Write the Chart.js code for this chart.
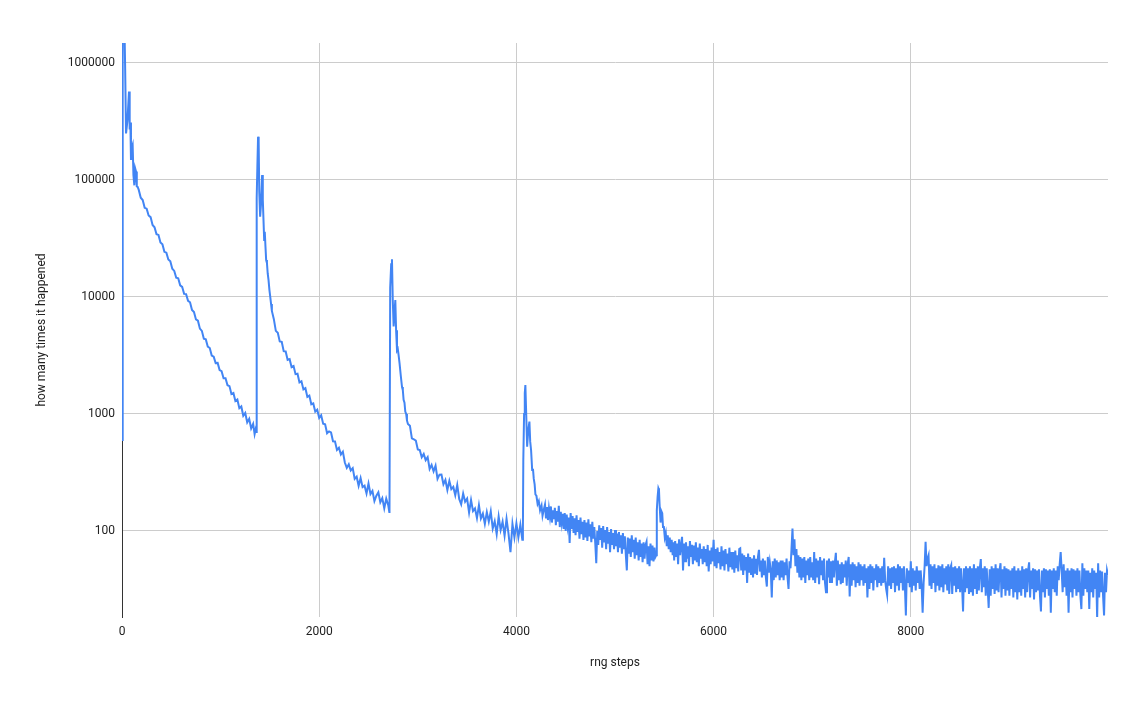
<!DOCTYPE html>
<html>
<head>
<meta charset="utf-8">
<title>rng steps</title>
<script src="https://cdn.jsdelivr.net/npm/chart.js@4.4.1/dist/chart.umd.min.js"></script>
<style>
    html, body { margin: 0; padding: 0; background: #fff; }
    #wrap { width: 1143px; height: 706px; position: relative; }
</style>
</head>
<body>
<div id="wrap"><canvas id="rngChart"></canvas></div>
<script>
// =========================
// DATA
// =========================

// first drop, 0 .. 1355
const steps1 = [
    0, 4, 10, 18, 26, 32, 41, 55, 71, 78,
    85, 91, 100, 108, 116, 125, 133, 142, 150, 159,
    170, 190, 210, 230, 250, 270, 290, 310, 330, 350,
    370, 390, 410, 430, 450, 470, 490, 510, 530, 550,
    570, 590, 610, 630, 650, 670, 690, 710, 730, 750,
    770, 790, 810, 830, 850, 870, 890, 910, 930, 950,
    970, 990, 1010, 1030, 1050, 1070, 1090, 1110, 1130, 1150,
    1170, 1190, 1210, 1230, 1250, 1270, 1290, 1310, 1330, 1345,
    1355
];
const counts1 = [
    600, 1700000, 1900000, 1500000, 1800000, 900000, 250000, 320000, 570000, 270000,
    310000, 148000, 190000, 200000, 110000, 90000, 126000, 118000, 88000, 87000,
    82200, 70500, 67300, 57800, 56800, 49700, 48100, 41200, 39400, 34400,
    33900, 29200, 28200, 24300, 23900, 20900, 20200, 17400, 16700, 14600,
    14450, 12560, 12200, 10620, 10570, 9270, 9010, 7730, 7430, 6430,
    6270, 5360, 5130, 4400, 4340, 3760, 3660, 3160, 3090, 2720,
    2730, 2370, 2320, 2020, 2020, 1760, 1730, 1480, 1510, 1290,
    1330, 1120, 1160, 965, 1020, 846, 908, 751, 822, 673,
    736
];

// second wave, 1362 .. 2711
const steps2 = [
    1362, 1366, 1373, 1380, 1386, 1392, 1401, 1410, 1421, 1428,
    1435, 1442, 1448, 1455, 1462, 1470, 1478, 1486, 1495, 1503,
    1512,
    1520, 1540, 1560, 1580, 1600, 1620, 1640, 1660, 1680, 1700,
    1720, 1740, 1760, 1780, 1800, 1820, 1840, 1860, 1880, 1900,
    1920, 1940, 1960, 1980, 2000, 2020, 2040, 2060, 2080, 2100,
    2120, 2140, 2160, 2180, 2200, 2220, 2240, 2260, 2280, 2300,
    2320, 2340, 2360, 2380, 2400, 2420, 2440, 2460, 2480, 2500,
    2520, 2540, 2560, 2580, 2600, 2620, 2640, 2660, 2680, 2700,
    2711
];
const counts2 = [
    700, 70000, 130000, 234000, 215000, 80000, 48500, 62000, 110000, 68000,
    45600, 30700, 36000, 27000, 20700, 19500, 15800, 14000, 11500, 10100,
    8700,
    7600, 6460, 5130, 4950, 4170, 4130, 3440, 3420, 2900, 2940,
    2510, 2570, 2190, 2210, 1860, 1905, 1620, 1660, 1400, 1435,
    1210, 1230, 1047, 1086, 925, 973, 826, 817, 684, 710,
    695, 585, 583, 492, 514, 451, 476, 385, 346, 371,
    329, 344, 279, 291, 243, 283, 237, 244, 209, 254,
    207, 220, 180, 200, 214, 176, 191, 156, 189, 166,
    145
];

// third wave, 2713 .. 4066
const steps3 = [
    2713, 2720, 2730, 2738, 2746, 2755, 2763, 2772, 2780, 2789,
    2797, 2805, 2815, 2828, 2840, 2848, 2856, 2865, 2873, 2882,
    2890,
    2900, 2920, 2940, 2960, 2980, 3000, 3020, 3040, 3060, 3080,
    3100, 3120, 3140, 3160, 3180, 3200, 3220, 3240, 3260, 3280,
    3300, 3320, 3340, 3360, 3380, 3400, 3420, 3440, 3460, 3480,
    3500, 3520, 3540, 3560, 3580, 3600, 3620, 3640, 3660, 3680,
    3700, 3720, 3740, 3760, 3780, 3800, 3820, 3840, 3860, 3880,
    3900, 3920, 3940, 3960, 3980, 4000, 4020, 4040, 4060,
    4066
];
const counts3 = [
    148, 12000, 19000, 21000, 9500, 5600, 7200, 9400, 5200, 3500,
    3600, 3200, 2700, 2100, 1700, 1600, 1320, 1250, 1050, 1000,
    880,
    822, 794, 619, 608, 592, 498, 492, 427, 455, 403,
    427, 339, 367, 324, 362, 279, 303, 304, 251, 273,
    224, 268, 228, 238, 202, 247, 188, 169, 209, 178,
    189, 144, 184, 148, 156, 129, 166, 128, 141, 115,
    145, 120, 147, 105, 121, 94, 133, 102, 120, 91,
    127, 95, 66, 115, 88, 116, 88, 113, 84,
    100
];

// fourth wave, 4070 .. 5410
const steps4 = [
    4070, 4078, 4085, 4091, 4098, 4109, 4120, 4132, 4140, 4149,
    4160, 4168, 4176, 4185, 4193, 4203, 4215, 4227, 4240, 4255,
    4265, 4277,
    4290, 4300, 4310, 4320, 4330, 4340, 4350, 4360, 4370, 4380,
    4390, 4400, 4410, 4420, 4430, 4440, 4450, 4460, 4470, 4480,
    4490, 4500, 4510, 4520, 4530, 4540, 4550, 4560, 4570, 4580,
    4590, 4600, 4610, 4620, 4630, 4640, 4650, 4660, 4670, 4680,
    4690, 4700, 4710, 4720, 4730, 4740, 4750, 4760, 4770, 4780,
    4790, 4800, 4810, 4820, 4830, 4840, 4850, 4860, 4870, 4880,
    4890, 4900, 4910, 4920, 4930, 4940, 4950, 4960, 4970, 4980,
    4990, 5000, 5010, 5020, 5030, 5040, 5050, 5060, 5070, 5080,
    5090, 5100, 5110, 5120, 5130, 5140, 5150, 5160, 5170, 5180,
    5190, 5200, 5210, 5220, 5230, 5240, 5250, 5260, 5270, 5280,
    5290, 5300, 5310, 5320, 5330, 5340, 5350, 5360, 5370, 5380,
    5390, 5400, 5410
];
const counts4 = [
    400, 1000, 1500, 1770, 1100, 525, 720, 860, 580, 490,
    332, 340, 280, 250, 205, 200, 170, 180, 150, 165,
    135, 151,
    168, 128, 160, 124, 155, 132, 162, 118, 150, 126,
    158, 112, 148, 120, 164, 108, 146, 118, 140, 104,
    142, 100, 138, 110, 130, 79, 142, 104, 134, 96,
    128, 92, 136, 98, 124, 86, 130, 94, 120, 84,
    124, 88, 118, 82, 126, 90, 114, 80, 120, 86,
    108, 78, 53, 100, 76, 112, 84, 106, 72, 110,
    80, 102, 70, 108, 78, 98, 66, 104, 76, 96,
    70, 102, 74, 95, 66, 98, 72, 92, 64, 96,
    70, 90, 62, 46, 88, 64, 86, 60, 92, 66,
    84, 58, 88, 62, 80, 56, 84, 60, 78, 54,
    80, 58, 76, 81, 52, 74, 50, 78, 56, 75,
    55, 72, 60
];

// fifth bump and the long noisy tail, 5418 .. 10000
const steps5 = [
    5418, 5424, 5432, 5440, 5446, 5452, 5462, 5470, 5479, 5487,
    5495, 5505, 5515, 5525, 5535, 5545, 5555, 5565, 5575, 5585,
    5595,
    5600, 5610, 5620, 5630, 5640, 5650, 5660, 5670, 5680, 5690,
    5700, 5710, 5720, 5730, 5740, 5750, 5760, 5770, 5780, 5790,
    5800, 5810, 5820, 5830, 5840, 5850, 5860, 5870, 5880, 5890,
    5900, 5910, 5920, 5930, 5940, 5950, 5960, 5970, 5980, 5990,
    6000, 6010, 6020, 6030, 6040, 6050, 6060, 6070, 6080, 6090,
    6100, 6110, 6120, 6130, 6140, 6150, 6160, 6170, 6180, 6190,
    6200, 6210, 6220, 6230, 6240, 6250, 6260, 6270, 6280, 6290,
    6300, 6310, 6320, 6330, 6340, 6350, 6360, 6370, 6380, 6390,
    6400, 6410, 6420, 6430, 6440, 6450, 6460, 6470, 6480, 6490,
    6500, 6510, 6520, 6530, 6540, 6550, 6560, 6570, 6580, 6590,
    6600, 6610, 6620, 6630, 6640, 6650, 6660, 6670, 6680, 6690,
    6700, 6710, 6720, 6730, 6740, 6750, 6760, 6770, 6780, 6790,
    6800, 6810, 6820, 6830, 6840, 6850, 6860, 6870, 6880, 6890,
    6900, 6910, 6920, 6930, 6940, 6950, 6960, 6970, 6980, 6990,
    7000, 7010, 7020, 7030, 7040, 7050, 7060, 7070, 7080, 7090,
    7100, 7110, 7120, 7130, 7140, 7150, 7160, 7170, 7180, 7190,
    7200, 7210, 7220, 7230, 7240, 7250, 7260, 7270, 7280, 7290,
    7300, 7310, 7320, 7330, 7340, 7350, 7360, 7370, 7380, 7390,
    7400, 7410, 7420, 7430, 7440, 7450, 7460, 7470, 7480, 7490,
    7500, 7510, 7520, 7530, 7540, 7550, 7560, 7570, 7580, 7590,
    7600, 7610, 7620, 7630, 7640, 7650, 7660, 7670, 7680, 7690,
    7700, 7710, 7720, 7730, 7740, 7750, 7760, 7770, 7780, 7790,
    7800, 7810, 7820, 7830, 7840, 7850, 7860, 7870, 7880, 7890,
    7900, 7910, 7920, 7930, 7940, 7950, 7960, 7970, 7980, 7990,
    8000, 8010, 8020, 8030, 8040, 8050, 8060, 8070, 8080, 8090,
    8100, 8110, 8120, 8130, 8140, 8150, 8160, 8170, 8180, 8190,
    8200, 8210, 8220, 8230, 8240, 8250, 8260, 8270, 8280, 8290,
    8300, 8310, 8320, 8330, 8340, 8350, 8360, 8370, 8380, 8390,
    8400, 8410, 8420, 8430, 8440, 8450, 8460, 8470, 8480, 8490,
    8500, 8510, 8520, 8530, 8540, 8550, 8560, 8570, 8580, 8590,
    8600, 8610, 8620, 8630, 8640, 8650, 8660, 8670, 8680, 8690,
    8700, 8710, 8720, 8730, 8740, 8750, 8760, 8770, 8780, 8790,
    8800, 8810, 8820, 8830, 8840, 8850, 8860, 8870, 8880, 8890,
    8900, 8910, 8920, 8930, 8940, 8950, 8960, 8970, 8980, 8990,
    9000, 9010, 9020, 9030, 9040, 9050, 9060, 9070, 9080, 9090,
    9100, 9110, 9120, 9130, 9140, 9150, 9160, 9170, 9180, 9190,
    9200, 9210, 9220, 9230, 9240, 9250, 9260, 9270, 9280, 9290,
    9300, 9310, 9320, 9330, 9340, 9350, 9360, 9370, 9380, 9390,
    9400, 9410, 9420, 9430, 9440, 9450, 9460, 9470, 9480, 9490,
    9500, 9510, 9520, 9530, 9540, 9550, 9560, 9570, 9580, 9590,
    9600, 9610, 9620, 9630, 9640, 9650, 9660, 9670, 9680, 9690,
    9700, 9710, 9720, 9730, 9740, 9750, 9760, 9770, 9780, 9790,
    9800, 9810, 9820, 9830, 9840, 9850, 9860, 9870, 9880, 9890,
    9900, 9910, 9920, 9930, 9940, 9950, 9960, 9970, 9980, 9990,
    10000
];
const counts5 = [
    62, 150, 195, 232, 225, 170, 118, 148, 142, 108,
    110, 88, 96, 74, 92, 70, 88, 66, 84, 62,
    80,
    56, 82, 60, 78, 52, 85, 62, 76, 89, 46,
    78, 55, 80, 58, 74, 50, 82, 60, 76, 52,
    75, 56, 80, 54, 72, 50, 78, 58, 70, 52,
    74, 54, 70, 50, 76, 45, 68, 52, 72, 55,
    84, 50, 70, 48, 72, 53, 66, 47, 74, 50,
    68, 46, 70, 52, 64, 45, 72, 49, 66, 47,
    66, 44, 68, 48, 62, 45, 70, 71, 46, 64,
    42, 62, 46, 60, 36, 64, 44, 60, 42, 58,
    40, 62, 44, 58, 42, 60, 69, 45, 56, 40,
    58, 42, 56, 40, 33.5, 60, 44, 54, 46, 27,
    55, 38, 58, 40, 56, 42, 54, 38, 56, 40,
    56, 38, 54, 42, 58, 40, 32, 55, 48, 70,
    105, 62, 85, 50, 70, 44, 62, 40, 60, 38,
    58, 40, 60, 36, 56, 42, 58, 38, 60, 40,
    54, 38, 66, 36, 58, 40, 56, 35, 60, 42,
    56, 38, 58, 36, 30, 56, 40, 58, 36, 55,
    36, 56, 40, 54, 65, 34, 56, 38, 52, 35,
    54, 36, 52, 40, 56, 34, 52, 60, 27.5, 52,
    34, 54, 38, 52, 33, 50, 36, 54, 34, 52,
    38, 50, 34, 52, 36, 48, 27, 50, 32, 52,
    36, 50, 31, 48, 38, 52, 33, 50, 36, 48,
    34, 50, 36, 59, 38, 32, 28.5, 50, 34, 48,
    32, 49, 36, 50, 30, 48, 34, 52, 31, 50,
    36, 48, 31, 50, 34, 19, 48, 36, 46, 33,
    55, 30, 48, 34, 46, 31, 50, 36, 46, 32,
    46, 34, 20, 36, 50, 81, 50, 58, 62, 34,
    52, 32, 50, 36, 52, 30, 48, 34, 51, 31,
    50, 33, 52, 30, 48, 35, 50, 31, 52, 29,
    48, 51, 29, 49, 34, 50, 30, 48, 32, 50,
    30, 48, 34, 20.5, 48, 30, 50, 33, 48, 29,
    50, 30, 48, 28, 52, 32, 48, 29, 50, 31,
    48, 57.6, 30, 48, 33, 50, 28, 48, 32, 22,
    47, 28, 50, 32, 48, 29, 52, 31, 48, 30,
    46, 53, 27, 47, 32, 50, 28, 48, 31, 47,
    28, 46, 32, 48, 27, 50, 30, 46, 26, 48,
    30, 46, 28, 50, 32, 47, 27, 48, 30, 46,
    54, 27, 46, 32, 48, 26, 47, 30, 46, 31,
    47, 28, 20.5, 46, 30, 48, 27, 47, 32, 46,
    28, 47, 20, 46, 32, 48, 30, 46, 28, 50,
    38, 52, 66, 46, 30, 52, 33, 46, 28, 48,
    20, 46, 30, 48, 27, 47, 32, 46, 28, 48,
    30, 46, 28, 21.5, 53, 28, 48, 32, 46, 30,
    46, 21.5, 44, 30, 48, 27, 46, 32, 44, 18,
    53, 27, 46, 30, 45, 28, 19, 44, 30, 46,
    42
];

// axis ticks
const xTicks = [0, 2000, 4000, 6000, 8000];
const yTicks = [100, 1000, 10000, 100000, 1000000];

// =========================
// BUILD POINTS
// =========================
const allSteps = [].concat(steps1, steps2, steps3, steps4, steps5);
const allCounts = [].concat(counts1, counts2, counts3, counts4, counts5);
const points = allSteps.map((s, i) => ({ x: s, y: allCounts[i] }));

// =========================
// RENDER LINE CHART
// =========================
const labelFont = { family: "Roboto, Arial, sans-serif", size: 12 };
const textColor = "#222";
const gridColor = "#cccccc";

const ctx = document.getElementById("rngChart").getContext("2d");

new Chart(ctx, {
    type: "line",
    data: {
        datasets: [{
            data: points,
            borderColor: "#4285f4",
            borderWidth: 2,
            pointRadius: 0,
            tension: 0,
            fill: false
        }]
    },
    options: {
        responsive: true,
        maintainAspectRatio: false,
        animation: false,
        layout: { padding: { left: 0, right: 35, top: 43, bottom: 0 } },
        plugins: {
            legend: { display: false },
            tooltip: { enabled: false }
        },
        scales: {
            x: {
                type: "linear",
                min: 0,
                max: 10000,
                afterBuildTicks: (scale) => {
                    scale.ticks = xTicks.map(v => ({ value: v }));
                },
                afterFit: (scale) => { scale.height = 89; },
                border: { display: false },
                grid: {
                    drawTicks: false,
                    // no grid line at 0, the y axis line sits there
                    color: (c) => (c.tick && c.tick.value === 0) ? "rgba(0,0,0,0)" : gridColor
                },
                ticks: {
                    padding: 8,
                    color: textColor,
                    font: labelFont,
                    maxRotation: 0,
                    callback: (v) => String(v)
                },
                title: {
                    display: true,
                    text: "rng steps",
                    color: textColor,
                    font: labelFont,
                    padding: { top: 0, bottom: 36 }
                }
            },
            y: {
                type: "logarithmic",
                min: 18.4,
                max: 1480000,
                afterBuildTicks: (scale) => {
                    scale.ticks = yTicks.map(v => ({ value: v }));
                },
                afterFit: (scale) => { scale.width = 122; },
                border: { display: true, color: "#333", width: 1 },
                grid: {
                    drawTicks: false,
                    color: gridColor
                },
                ticks: {
                    padding: 7,
                    color: textColor,
                    font: labelFont,
                    callback: (v) => String(v)
                },
                title: {
                    display: true,
                    text: "how many times it happened",
                    color: textColor,
                    font: labelFont,
                    padding: { top: 35, bottom: 0 }
                }
            }
        }
    }
});
</script>
</body>
</html>
